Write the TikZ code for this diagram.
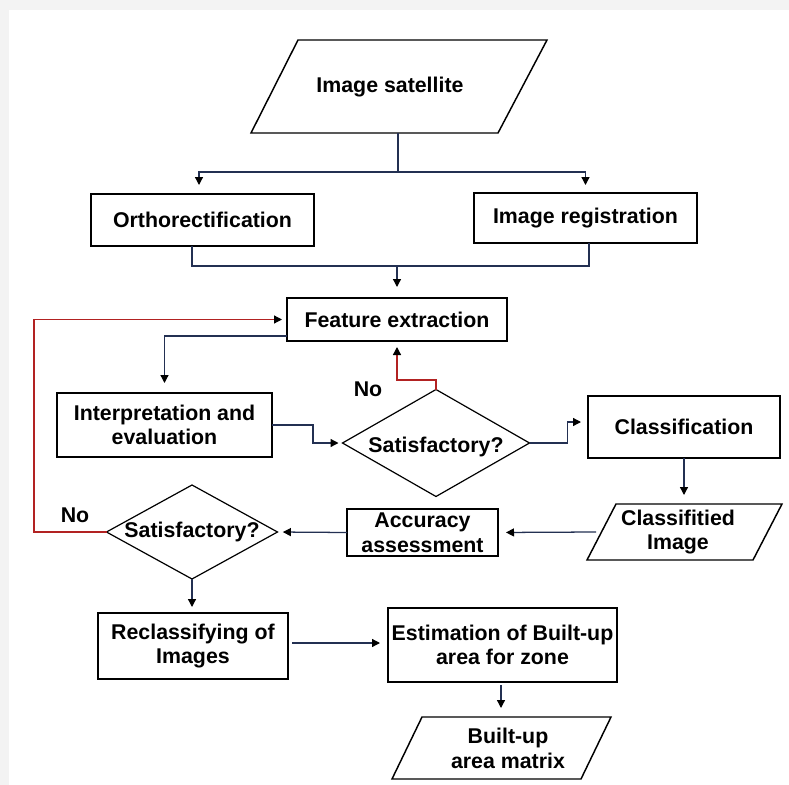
\documentclass[tikz,border=0pt]{standalone}
\usepackage{fontspec}
\setmainfont{Liberation Sans}
\usetikzlibrary{shapes.geometric,arrows.meta,calc}
\definecolor{navy}{RGB}{35,48,82}
\definecolor{fbred}{RGB}{178,34,34}
\definecolor{bggray}{RGB}{243,243,243}
\begin{document}
\begin{tikzpicture}[x=0.75pt,y=-0.75pt,
  font=\fontsize{16pt}{18.5pt}\selectfont\bfseries,
  box/.style={draw=black, line width=1.2pt, rectangle, inner sep=0pt, outer sep=0pt, align=center},
  dia/.style={draw=black, line width=0.9pt, diamond, inner sep=0pt, outer sep=0pt},
  bound/.style={inner sep=0pt, outer sep=0pt},
  para/.style={draw=black, line width=1.1pt, line join=miter},
  lbl/.style={inner sep=0pt, align=center},
  line/.style={draw=navy, line width=0.95pt},
  arr/.style={draw=navy, line width=0.95pt, -{Triangle[length=6pt,width=6pt,color=black]}},
  redline/.style={draw=fbred, line width=0.95pt, -{Triangle[length=6pt,width=6pt,color=black]}}
]
\fill[bggray] (0,0) rectangle (789,785);
\fill[white] (9,10) rectangle (789,785);
\useasboundingbox (0,0) rectangle (789,785);

% ---- shapes ----
\node[bound, minimum width=222pt, minimum height=69.75pt] (sat) at (399,86.5) {};
\draw[para] ($(sat.north west)+(47,0)$) -- (sat.north east) -- ($(sat.south east)+(-49,0)$) -- (sat.south west) -- cycle;
\node[lbl] (satt) at (390,87) {Image satellite};

\node[box, minimum width=167.25pt, minimum height=39pt] (orth) at (202.5,220) {Orthorectification};
\node[box, minimum width=167.25pt, minimum height=37.5pt] (reg) at (585.5,218) {Image registration};
\node[box, minimum width=165pt, minimum height=32.25pt] (feat) at (397,319.5) {Feature extraction};
\node[box, minimum width=161.25pt, minimum height=48pt] (interp) at (164.5,425) {Interpretation and\\evaluation};
\node[dia, minimum width=140.25pt, minimum height=80.25pt] (dia1) at (436,443) {\raisebox{-3pt}[\height][\depth]{\makebox[0pt]{Satisfactory?}}};
\node[box, minimum width=144pt, minimum height=46.5pt] (cls) at (684,427) {Classification};

\node[bound, minimum width=146.25pt, minimum height=42pt] (clsimg) at (684.5,532) {};
\draw[para] ($(clsimg.north west)+(29,0)$) -- (clsimg.north east) -- ($(clsimg.south east)+(-29,0)$) -- (clsimg.south west) -- cycle;
\node[lbl] (clsimgt) at (678,532) {Classifitied\\Image};

\node[box, minimum width=113.25pt, minimum height=35.25pt] (acc) at (422.5,532.5) {Accuracy\\assessment};
\node[dia, minimum width=128.25pt, minimum height=70.5pt] (dia2) at (192,532) {\makebox[0pt]{Satisfactory?}};

\node[box, minimum width=142.5pt, minimum height=49.5pt] (recl) at (193,646) {Reclassifying of\\Images};
\node[box, minimum width=171.75pt, minimum height=55.5pt] (est) at (502.5,645) {Estimation of Built-up\\area for zone};

\node[bound, minimum width=164.25pt, minimum height=46.5pt] (mat) at (501.5,748) {};
\draw[para] ($(mat.north west)+(30,0)$) -- (mat.north east) -- ($(mat.south east)+(-30,0)$) -- (mat.south west) -- cycle;
\node[lbl] (matt) at (508,748.5) {Built-up\\area matrix};

\node[lbl] (no1) at (368,389) {No};
\node[lbl] (no2) at (75,515) {No};

% ---- connectors ----
\coordinate (j1) at (398,172);
\draw[line] ($(sat.south)+(-1,0)$) -- (j1);
\draw[arr, shorten >=6.75pt] (j1) -| ($(orth.north)+(-3.5,0)$);
\draw[arr, shorten >=6pt] (j1) -| (reg.north);

\coordinate (j2) at (397,266);
\draw[line] ($(orth.south)+(-10.5,0)$) |- (j2) -| ($(reg.south)+(3.5,0)$);
\draw[arr, shorten >=8.25pt] (j2) -- (feat.north);

\coordinate (r1) at (34,532);
\draw[redline, shorten >=3.75pt] (dia2.west) -- (r1) |- (feat.west);

\coordinate (n1) at (436,380);
\draw[redline, shorten >=4.5pt] (dia1.north) -- (n1) -| (feat.south);

\draw[arr, shorten >=7.5pt] ($(feat.south west)+(0,-5)$) -| (interp.north);
\draw[arr, shorten >=3pt] (interp.east) -- ++(41,0) |- (dia1.west);
\draw[arr, shorten >=5.25pt] (dia1.east) -- ++(38,0) |- ($(cls.west)+(0,-5)$);
\draw[arr, shorten >=6.75pt] (cls.south) -- (cls.south |- clsimg.north);
\draw[arr, shorten >=6pt] ($(clsimg.west)+(9,0)$) -- (acc.east);
\draw[arr, shorten >=4pt] (acc.west) -- (dia2.east);
\draw[arr, shorten >=4.5pt] (dia2.south) -- (dia2.south |- recl.north);
\draw[arr, shorten <=3pt, shorten >=6pt] ($(recl.east)+(0,-3)$) -- ($(est.west)+(0,-2)$);
\draw[arr, shorten <=2.25pt, shorten >=6.75pt] ($(est.south)+(-1.5,0)$) -- ($(est.south |- mat.north)+(-1.5,0)$);
\end{tikzpicture}
\end{document}
